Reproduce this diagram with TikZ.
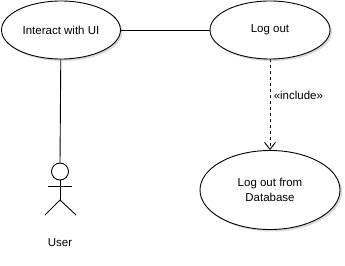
\documentclass[tikz,border=0pt]{standalone}
\usepackage{fontspec}
\setmainfont{Liberation Sans}
\usetikzlibrary{shapes.geometric,shadows,arrows.meta}

\begin{document}
\begin{tikzpicture}[x=1pt,y=1pt,line width=0.9pt, every node/.style={font=\fontsize{11.5}{15.5}\selectfont}]
\tikzset{usecase/.style={ellipse,draw,fill=white,inner sep=0pt,align=center,drop shadow={shadow xshift=2pt,shadow yshift=-2pt,opacity=0.3,fill=gray}}}
\tikzset{incl/.style={dash pattern=on 3pt off 3pt,-{Straight Barb[length=7pt,width=11pt]}}}
\useasboundingbox (0,0) rectangle (345,265);
\node[usecase,minimum width=119pt,minimum height=58pt] at (61,235) (ui) {Interact with UI};
\node[usecase,minimum width=120pt,minimum height=58pt] at (270,235) (logout) {Log out};
\draw (ui) -- (logout);
\node[usecase,minimum width=140pt,minimum height=79pt] at (270,75) (logoutdb) {Log out from\\Database};
\draw[incl] (logout) -- (logoutdb);
\node[anchor=west,font=\fontsize{11.5}{13}\selectfont] at (270,170) (inc) {«include»};
% stick figure
\coordinate (head) at (60,102);
\draw (60,93.5) circle (8.5);
\draw (48,79) -- (72,79);
\draw (60,85) -- (60,65);
\draw (45,50) -- (60,65) -- (76,50);
\node at (60,22) (user) {User};
\draw (ui) -- (head);
\end{tikzpicture}
\end{document}
